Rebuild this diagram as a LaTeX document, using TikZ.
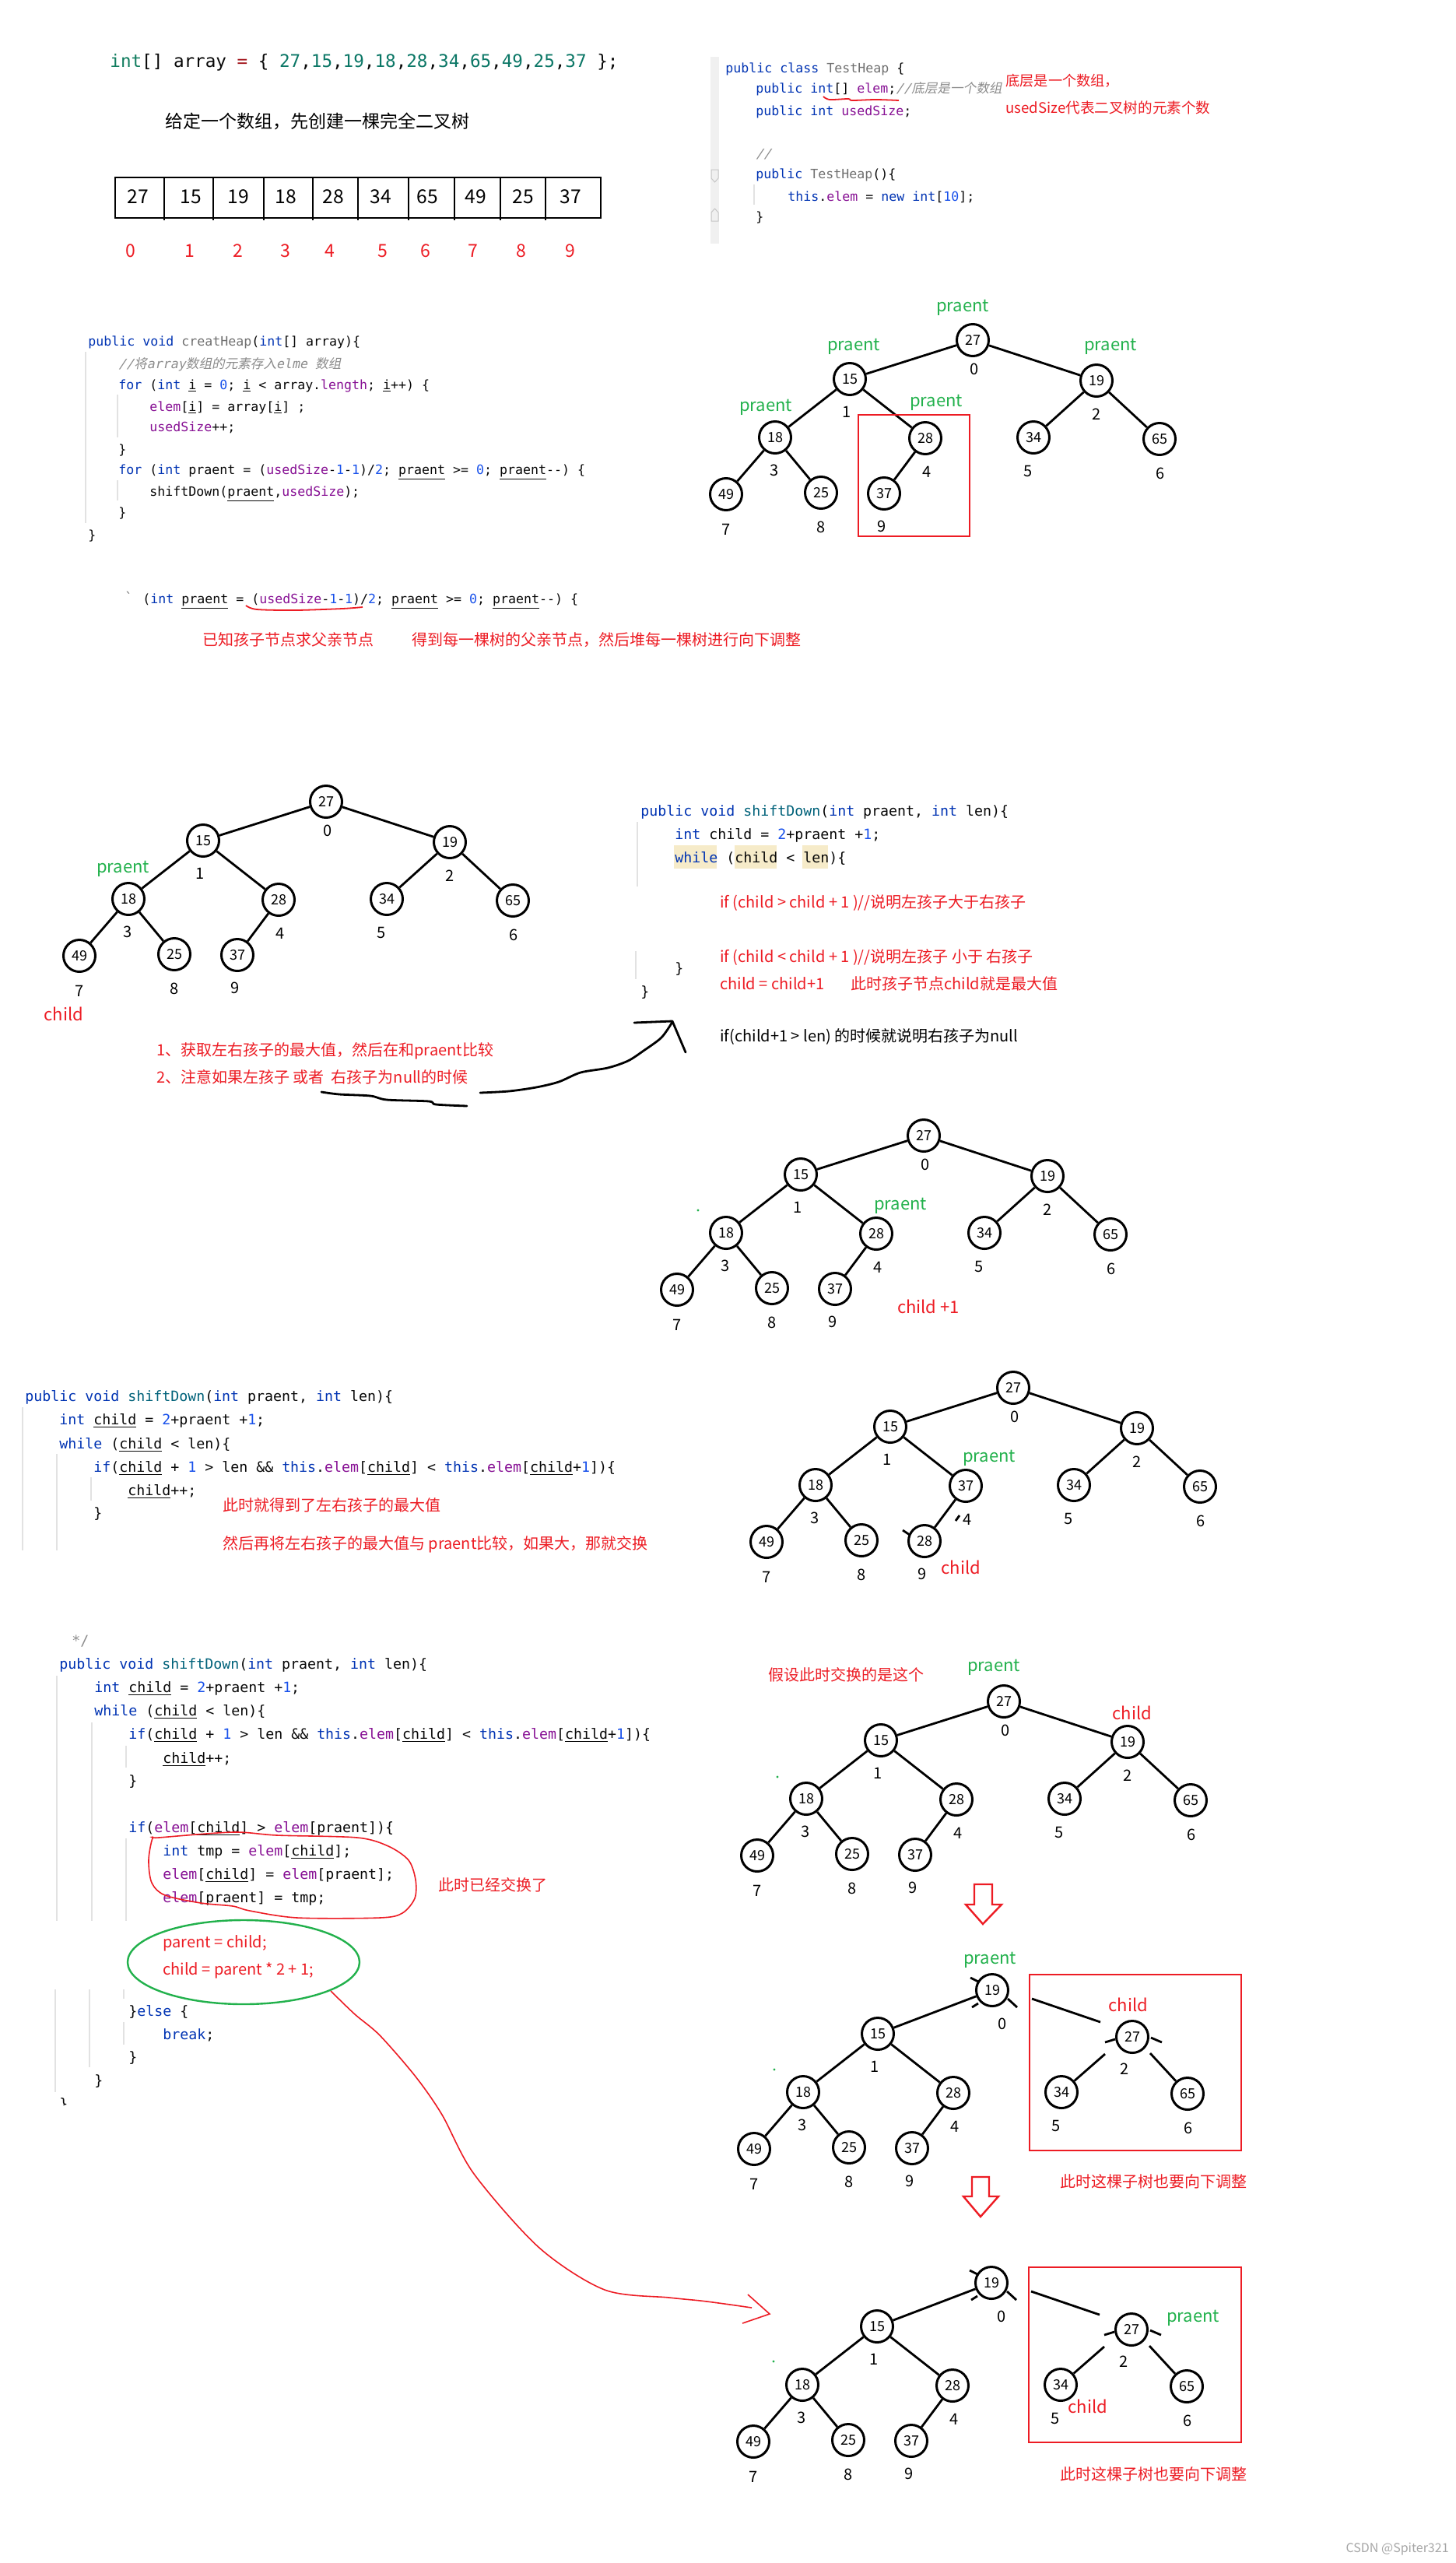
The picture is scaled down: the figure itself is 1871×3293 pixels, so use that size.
\documentclass[tikz,border=0pt]{standalone}
\usepackage{fontspec}
\setmainfont{Noto Sans CJK SC}
\newfontfamily\cfont{DejaVu Sans Mono}
\newfontfamily\cfontit[FakeSlant=0.2]{DejaVu Sans Mono}
\newfontfamily\cjki[FakeSlant=0.2]{Noto Sans CJK SC}
\usetikzlibrary{calc}
\definecolor{pred}{HTML}{ED1C24}
\definecolor{pgreen}{HTML}{22B14C}
\definecolor{ckw}{HTML}{0033B3}
\definecolor{cfl}{HTML}{871094}
\definecolor{cnum}{HTML}{1750EB}
\definecolor{cmt}{HTML}{8C8C8C}
\definecolor{cmth}{HTML}{00627A}
\definecolor{cgry}{HTML}{707070}
\definecolor{cblack}{HTML}{080808}
\definecolor{guidegray}{HTML}{E2E2E2}
\definecolor{hlc}{HTML}{F6EBC9}
\definecolor{tgreen}{HTML}{107C5E}
\definecolor{tnum}{HTML}{0B7766}
\definecolor{tred}{HTML}{A3151C}
\newcommand\fsz[1]{\fontsize{#1}{#1}\selectfont}
\newcommand\xkw[1]{\textcolor{ckw}{#1}}
\newcommand\xfl[1]{\textcolor{cfl}{#1}}
\newcommand\xnm[1]{\textcolor{cnum}{#1}}
\newcommand\xgr[1]{\textcolor{cgry}{#1}}
\newcommand\xmt[1]{\textcolor{cmth}{#1}}
\newcommand\xuv[1]{\underline{#1}}
\newcommand\tn[1]{\textcolor{tnum}{#1}}
\def\vA{27}\def\vC{19}\def\vE{28}\def\vJ{37}
\def\rAx{0}\def\rAy{0}\def\rCx{159}\def\rCy{52}
\newcommand\heaptree[3]{%
\begin{scope}[shift={(#2,#3)}]
\node[hn] (#1-0) at (\rAx,\rAy) {\vA};
\node[hn] (#1-1) at (-158,50) {15};
\node[hn] (#1-2) at (\rCx,\rCy) {\vC};
\node[hn] (#1-3) at (-254,125) {18};
\node[hn] (#1-4) at (-61,126) {\vE};
\node[hn] (#1-5) at (78,125) {34};
\node[hn] (#1-6) at (240,127) {65};
\node[hn] (#1-7) at (-317,198) {49};
\node[hn] (#1-8) at (-195,196) {25};
\node[hn] (#1-9) at (-114,197) {\vJ};
\node[il] (#1-i0) at (2,37) {0};
\node[il] (#1-i1) at (-162,92) {1};
\node[il] (#1-i2) at (159,95) {2};
\node[il] (#1-i3) at (-255,167) {3};
\node[il] (#1-i4) at (-59,169) {4};
\node[il] (#1-i5) at (71,168) {5};
\node[il] (#1-i6) at (241,171) {6};
\node[il] (#1-i7) at (-317,243) {7};
\node[il] (#1-i8) at (-195,240) {8};
\node[il] (#1-i9) at (-117,239) {9};
\end{scope}}
\newcommand\rootedges[1]{\draw[ed] (#1-0)--(#1-1) (#1-0)--(#1-2);}
\newcommand\leftedges[1]{\draw[ed] (#1-1)--(#1-3) (#1-1)--(#1-4) (#1-3)--(#1-7) (#1-3)--(#1-8) (#1-4)--(#1-9);}
\newcommand\rightedges[1]{\draw[ed] (#1-2)--(#1-5) (#1-2)--(#1-6);}
\newcommand\swapstubs[1]{%
\draw[ed] ($(#1-0)+(-28,-16)$)--($(#1-0)+(-18,-11)$);
\draw[ed] ($(#1-0)+(20,11)$)--($(#1-0)+(32,22)$);
\draw[ed] ($(#1-0)+(-26,22)$)--($(#1-0)+(-18,17)$);
\draw[ed] ($(#1-2)+(-35,7)$)--($(#1-2)+(-22,3)$);
\draw[ed] ($(#1-2)+(24,1)$)--($(#1-2)+(38,7)$);
\coordinate (#1-sa) at ($(#1-0)+(51,11)$);
\coordinate (#1-sb) at ($(#1-2)+(-41,-19)$);
\coordinate (#1-sc) at ($(#1-2)+(-35,22)$);
\coordinate (#1-sd) at ($(#1-2)+(23,21)$);
\draw[ed] (#1-sa)--(#1-sb);
\draw[ed] (#1-sc)--(#1-5);
\draw[ed] (#1-sd)--(#1-6);}
\begin{document}
\begin{tikzpicture}[x=0.5pt,y=-0.5pt,
  hn/.style={circle,draw,line width=1.5pt,minimum size=20.5pt,inner sep=0pt,font=\fsz{9}},
  il/.style={inner sep=0pt,font=\fsz{10}},
  ed/.style={line width=1.4pt},
  gl/.style={inner sep=0pt,text=pgreen,font=\fsz{11}},
  rl/.style={inner sep=0pt,text=pred,font=\fsz{11}},
  cl/.style={anchor=base west,inner sep=0pt,font=\cfont\fsz{9.13},text=cblack},
  cs/.style={anchor=base west,inner sep=0pt,font=\cfont\fsz{8.3},text=cblack},
  an/.style={anchor=base west,inner sep=0pt,text=pred,font=\fsz{10}},
  guide/.style={draw=guidegray,line width=0.6pt},
  hand/.style={line width=1.4pt,line cap=round,line join=round},
  rbox/.style={draw=pred,line width=1.4pt},
  harrow/.style={draw=pred,line width=1.2pt,line join=miter},
]
\useasboundingbox (0,0) rectangle (1871,3293);
\fill[white] (0,0) rectangle (1871,3293);

% ---------------- section 1 ----------------
\node[anchor=base west,inner sep=0pt,font=\cfont\fsz{11.3},text=cblack] (arrcode) at (141,86)
 {\textcolor{tgreen}{int}[] array \textcolor{tred}{=} \{ \tn{27},\tn{15},\tn{19},\tn{18},\tn{28},\tn{34},\tn{65},\tn{49},\tn{25},\tn{37} \};};
\node[anchor=base west,inner sep=0pt,font=\fsz{11.5}] (title) at (212,164) {给定一个数组，先创建一棵完全二叉树};
\draw[line width=1.4pt] (148,228) rectangle (772,280);
\foreach \x in {211,274,339,402,460,525,584,643,701} \draw[line width=1.4pt] (\x,228)--(\x,283);
\foreach \x/\v [count=\i from 0] in {177/27,245/15,306/19,367/18,428/28,489/34,549/65,611/49,672/25,733/37}
  \node[inner sep=0pt,font=\fsz{12.3}] (cell\i) at (\x,253) {\v};
\foreach \x [count=\i from 0] in {168,244,306,367,424,492,547,608,670,733}
  \node[inner sep=0pt,font=\fsz{11.5},text=pred] (idx\i) at (\x,322) {\i};

% TestHeap code
\fill[gray!12] (913,73) rectangle (924,313);
\draw[gray!45,line width=0.5pt] (914,218)--(923,218)--(923,229)--(918.5,234)--(914,229)--cycle;
\draw[gray!45,line width=0.5pt] (914,284)--(923,284)--(923,273)--(918.5,268)--(914,273)--cycle;
\draw[guide] (969,237)--(969,263);
\node[cs] (th1) at (932,93) {\xkw{public} \xkw{class} \xgr{TestHeap} \{};
\node[cs] (th2) at (971,119) {\xkw{public} \xkw{int}[] \xfl{elem};\textcolor{cmt}{\cfontit //{\cjki 底层是一个数组}}};
\node[cs] (th3) at (971,148) {\xkw{public} \xkw{int} \xfl{usedSize};};
\node[cs] (th4) at (971,203) {\textcolor{cmt}{\cfontit //}};
\node[cs] (th5) at (971,229) {\xkw{public} \xgr{TestHeap}()\{};
\node[cs] (th6) at (1012,258) {\xkw{this}.\xfl{elem} = \xkw{new} \xkw{int}[\xnm{10}];};
\node[cs] (th7) at (971,284) {\}};
\draw[pred,line width=0.9pt] plot[smooth] coordinates {(1058,124) (1066,128) (1090,127) (1095,129) (1125,128) (1155,129)};
\node[an,font=\fsz{9.1}] (nt1) at (1292,110) {底层是一个数组，};
\node[an,font=\fsz{9.3}] (nt2) at (1292,145) {usedSize代表二叉树的元素个数};

% creatHeap code
\draw[guide] (110,452)--(110,672);
\draw[guide] (151,507)--(151,562);
\draw[guide] (151,617)--(151,643);
\node[cs] (ch1) at (113,444) {\xkw{public} \xkw{void} \xgr{creatHeap}(\xkw{int}[] array)\{};
\node[cs] (ch2) at (152,473) {\textcolor{cmt}{\cfontit //{\cjki 将}array{\cjki 数组的元素存入}elme {\cjki 数组}}};
\node[cs] (ch3) at (152,500) {\xkw{for} (\xkw{int} \xuv{i} = \xnm{0}; \xuv{i} < array.\xfl{length}; \xuv{i}++) \{};
\node[cs] (ch4) at (192,528) {\xfl{elem}[\xuv{i}] = array[\xuv{i}] ;};
\node[cs] (ch5) at (192,554) {\xfl{usedSize}++;};
\node[cs] (ch6) at (152,583) {\}};
\node[cs] (ch7) at (152,609) {\xkw{for} (\xkw{int} praent = (\xfl{usedSize}-\xnm{1}-\xnm{1})/\xnm{2}; \xuv{praent} >= \xnm{0}; \xuv{praent}-{}-) \{};
\node[cs] (ch8) at (192,637) {shiftDown(\xuv{praent},\xfl{usedSize});};
\node[cs] (ch9) at (152,664) {\}};
\node[cs] (ch10) at (113,693) {\}};

% tree 1
\heaptree{ta}{1250}{437}
\rootedges{ta}\leftedges{ta}\rightedges{ta}
\node[gl] (ta-p0) at (1237,395) {praent};
\node[gl] (ta-p1) at (1097,445) {praent};
\node[gl] (ta-p2) at (1427,445) {praent};
\node[gl] (ta-p3) at (984,523) {praent};
\node[gl] (ta-p4) at (1203,517) {praent};
\draw[rbox] (1103,533) rectangle (1246,689);

% middle code line
\node[cs,text=cgry] (tick) at (160,773) {`};
\node[cs] (mid) at (183,775) {(\xkw{int} \xuv{praent} = (\xfl{usedSize}-\xnm{1}-\xnm{1})/\xnm{2}; \xuv{praent} >= \xnm{0}; \xuv{praent}-{}-) \{};
\draw[pred,line width=0.9pt] plot[smooth] coordinates {(316,778) (330,783) (380,784) (440,782) (466,780)};
\node[an] (m1) at (260,829) {已知孩子节点求父亲节点};
\node[an] (m2) at (529,829) {得到每一棵树的父亲节点，然后堆每一棵树进行向下调整};

% ---------------- section 2 ----------------
\heaptree{tb}{419}{1030}
\rootedges{tb}\leftedges{tb}\rightedges{tb}
\node[gl] (tb-p) at (158,1116) {praent};
\node[rl] (tb-c) at (82,1303) {child};
\node[an] (s2a) at (201,1356) {1、获取左右孩子的最大值，然后在和praent比较};
\node[an] (s2b) at (201,1391) {2、注意如果左孩子 或者\ \ 右孩子为null的时候};
\draw[hand] plot[smooth] coordinates {(413,1403) (436,1406) (476,1408) (497,1413) (551,1415) (560,1419) (600,1421)};
\draw[hand] plot[smooth] coordinates {(617,1404) (654,1402) (689,1397) (718,1390) (746,1378) (781,1372) (807,1363) (827,1350) (850,1333) (864,1313)};
\draw[hand] (815,1314)--(864,1312)--(881,1352);

\draw[guide] (819,1056)--(819,1139);
\draw[guide] (817,1222)--(817,1258);
\fill[hlc] (866,1086) rectangle (921,1116);
\fill[hlc] (944,1086) rectangle (998,1116);
\fill[hlc] (1031,1086) rectangle (1064,1116);
\node[cl] (sa1) at (823,1048) {\xkw{public} \xkw{void} \xmt{shiftDown}(\xkw{int} praent, \xkw{int} len)\{};
\node[cl] (sa2) at (867,1078) {\xkw{int} child = \xnm{2}+praent +\xnm{1};};
\node[cl] (sa3) at (867,1108) {\xkw{while} (child < len)\{};
\node[cl] (sa4) at (867,1250) {\}};
\node[cl] (sa5) at (823,1280) {\}};
\node[an] (sa6) at (925,1166) {if (child > child + 1 )//说明左孩子大于右孩子};
\node[an] (sa7) at (925,1236) {if (child < child + 1 )//说明左孩子 小于 右孩子};
\node[an] (sa8) at (925,1271) {child = child+1};
\node[an] (sa9) at (1093,1271) {此时孩子节点child就是最大值};
\node[an,text=black] (sa10) at (925,1338) {if(child+1 > len) 的时候就说明右孩子为null};

% tree 3
\heaptree{tc}{1187}{1459}
\rootedges{tc}\leftedges{tc}\rightedges{tc}
\node[gl] (tc-p) at (1157,1549) {praent};
\node[rl] (tc-c) at (1193,1679) {child +1};
\fill[pgreen] (897,1555) circle[radius=0.8pt];

% ---------------- section 4 ----------------
\draw[guide] (29,1808)--(29,1992);
\draw[guide] (73,1868)--(73,1992);
\draw[guide] (117,1898)--(117,1928);
\node[cl] (sb1) at (32,1800) {\xkw{public} \xkw{void} \xmt{shiftDown}(\xkw{int} praent, \xkw{int} len)\{};
\node[cl] (sb2) at (76,1830) {\xkw{int} \xuv{child} = \xnm{2}+praent +\xnm{1};};
\node[cl] (sb3) at (76,1861) {\xkw{while} (\xuv{child} < len)\{};
\node[cl] (sb4) at (120,1891) {\xkw{if}(\xuv{child} + \xnm{1} > len \&\& \xkw{this}.\xfl{elem}[\xuv{child}] < \xkw{this}.\xfl{elem}[\xuv{child}+\xnm{1}])\{};
\node[cl] (sb5) at (164,1921) {\xuv{child}++;};
\node[cl] (sb6) at (120,1950) {\}};
\node[an] (sb7) at (286,1941) {此时就得到了左右孩子的最大值};
\node[an] (sb8) at (286,1990) {然后再将左右孩子的最大值与 praent比较，如果大，那就交换};

\def\vE{37}\def\vJ{28}
\heaptree{td}{1302}{1783}
\def\vE{28}\def\vJ{37}
\rootedges{td}\leftedges{td}\rightedges{td}
\draw[ed] ($(td-9)+(-28,-14)$)--($(td-9)+(-19,-8)$);
\draw[ed] ($(td-4)+(-8,38)$)--($(td-4)+(-13,45)$);
\node[gl] (td-p) at (1271,1873) {praent};
\node[rl] (td-c) at (1235,2014) {child};

% ---------------- section 5 ----------------
\node[cl,text=cmt] (cend) at (92,2114) {*/};
\draw[guide] (73,2153)--(73,2468);
\draw[guide] (118,2213)--(118,2468);
\draw[guide] (162,2243)--(162,2271);
\draw[guide] (162,2362)--(162,2468);
\draw[guide] (71,2556)--(71,2688);
\draw[guide] (115,2556)--(115,2656);
\draw[guide] (159,2556)--(159,2568);
\draw[guide] (159,2598)--(159,2627);
\node[cl] (sc1) at (76,2144) {\xkw{public} \xkw{void} \xmt{shiftDown}(\xkw{int} praent, \xkw{int} len)\{};
\node[cl] (sc2) at (121,2174) {\xkw{int} \xuv{child} = \xnm{2}+praent +\xnm{1};};
\node[cl] (sc3) at (121,2204) {\xkw{while} (\xuv{child} < len)\{};
\node[cl] (sc4) at (165,2234) {\xkw{if}(\xuv{child} + \xnm{1} > len \&\& \xkw{this}.\xfl{elem}[\xuv{child}] < \xkw{this}.\xfl{elem}[\xuv{child}+\xnm{1}])\{};
\node[cl] (sc5) at (209,2265) {\xuv{child}++;};
\node[cl] (sc6) at (165,2294) {\}};
\node[cl] (sc7) at (165,2354) {\xkw{if}(\xfl{elem}[\xuv{child}] > \xfl{elem}[praent])\{};
\node[cl] (sc8) at (209,2384) {\xkw{int} tmp = \xfl{elem}[\xuv{child}];};
\node[cl] (sc9) at (209,2414) {\xfl{elem}[\xuv{child}] = \xfl{elem}[praent];};
\node[cl] (sc10) at (209,2444) {\xfl{elem}[praent] = tmp;};
\node[an] (sc11) at (209,2502) {parent = child;};
\node[an] (sc12) at (209,2537) {child = parent * 2 + 1;};
\node[cl] (sc13) at (165,2590) {\}\xkw{else} \{};
\node[cl] (sc14) at (209,2620) {\xkw{break};};
\node[cl] (sc15) at (165,2649) {\}};
\node[cl] (sc16) at (121,2679) {\}};
\begin{scope}
\clip (60,2690) rectangle (100,2704);
\node[cl] (sc17) at (76,2709) {\}};
\end{scope}
\draw[pred,line width=0.8pt] plot[smooth cycle] coordinates {(204,2361) (299,2354) (356,2358) (459,2361) (499,2372) (525,2390) (534,2415) (533,2439) (517,2458) (488,2464) (382,2464) (321,2455) (299,2449) (258,2445) (212,2435) (195,2419) (191,2390) (196,2362)};
\node[an] (sc18) at (563,2429) {此时已经交换了};
\draw[pgreen,line width=1.2pt] (313,2521) ellipse [x radius=74.5pt, y radius=27pt];
\coordinate (lg0) at (425,2558);
\coordinate (lg1) at (966,2965);
\draw[pred,line width=0.8pt] plot[smooth] coordinates {(lg0) (456,2588) (488,2615) (534,2668) (568,2717) (609,2793) (693,2888) (777,2942) (860,2952) (900,2956) (931,2960) (lg1)};
\draw[pred,line width=0.8pt] (961,2948)--(989,2973)--(954,2985);

% tree 5
\heaptree{te}{1290}{2186}
\rootedges{te}\leftedges{te}\rightedges{te}
\node[gl] (te-p) at (1277,2142) {praent};
\node[rl] (te-c) at (1455,2201) {child};
\node[an] (te-t) at (987,2159) {假设此时交换的是这个};
\fill[pgreen] (999,2283) circle[radius=0.8pt];
\draw[harrow] (1252,2421)--(1252,2447)--(1241,2447)--(1263,2472)--(1287,2447)--(1275,2447)--(1275,2421)--cycle;

% tree 6
\def\vA{19}\def\vC{27}\def\rAx{-11}\def\rAy{-6}\def\rCx{169}\def\rCy{54}
\heaptree{tf}{1286}{2563}
\draw[ed] (tf-0)--(tf-1);\leftedges{tf}\swapstubs{tf}
\node[gl] (tf-p) at (1272,2518) {praent};
\node[rl] (tf-c) at (1450,2576) {child};
\draw[rbox] (1323,2537) rectangle (1595,2763);
\node[an] (tf-t) at (1362,2810) {此时这棵子树也要向下调整};
\fill[pgreen] (995,2659) circle[radius=0.8pt];
\draw[harrow] (1249,2797)--(1249,2822)--(1238,2822)--(1260,2848)--(1283,2822)--(1271,2822)--(1271,2797)--cycle;

% tree 7
\heaptree{tg}{1285}{2939}
\draw[ed] (tg-0)--(tg-1);\leftedges{tg}\swapstubs{tg}
\node[gl] (tg-p) at (1533,2978) {praent};
\node[rl] (tg-c) at (1398,3092) {child};
\draw[rbox] (1322,2913) rectangle (1595,3138);
\node[an] (tg-t) at (1362,3186) {此时这棵子树也要向下调整};
\fill[pgreen] (994,3034) circle[radius=0.8pt];

\node[anchor=base east,inner sep=0pt,font=\fsz{8},text=gray!70] (wm) at (1862,3279) {CSDN @Spiter321};
\end{tikzpicture}
\end{document}
